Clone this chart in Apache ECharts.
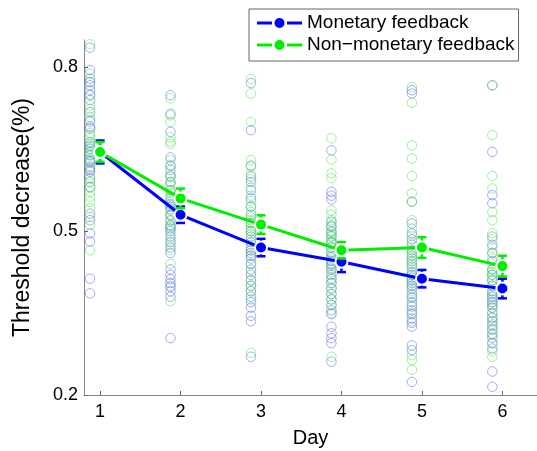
<!DOCTYPE html>
<html>
<head>
<meta charset="utf-8">
<script src="https://cdn.jsdelivr.net/npm/echarts@6/dist/echarts.min.js"></script>
<style>
html,body{margin:0;padding:0;background:#fff;}
#chart{width:537px;height:451px;}
</style>
</head>
<body>
<div id="chart"></div>
<script>
// ---- data ----
const days = [1, 2, 3, 4, 5, 6];
const xTicks = [1, 2, 3, 4, 5, 6];
const yTicks = [0.2, 0.5, 0.8];

const monetaryMeans = [0.645, 0.530, 0.470, 0.444, 0.413, 0.395];
const monetarySem   = [0.021, 0.015, 0.016, 0.019, 0.016, 0.018];
const nonMonetaryMeans = [0.645, 0.560, 0.512, 0.465, 0.470, 0.436];
const nonMonetarySem   = [0.018, 0.018, 0.017, 0.015, 0.019, 0.019];

const monetaryDay1 = [0.836,0.795,0.779,0.773,0.767,0.758,0.749,0.740,0.718,0.703,0.691,0.688,0.663,0.651,0.639,0.627,0.618,0.609,0.597,0.581,0.532,0.520,0.496,0.481,0.413,0.386,0.655,0.645,0.630,0.612];
const monetaryDay2 = [0.749,0.715,0.682,0.635,0.620,0.612,0.600,0.590,0.575,0.560,0.550,0.540,0.530,0.520,0.510,0.500,0.490,0.480,0.470,0.460,0.430,0.420,0.412,0.405,0.398,0.390,0.380,0.304,0.545,0.505];
const monetaryDay3 = [0.771,0.685,0.620,0.600,0.590,0.575,0.560,0.545,0.530,0.515,0.500,0.490,0.480,0.470,0.460,0.450,0.440,0.430,0.420,0.410,0.400,0.390,0.380,0.370,0.360,0.345,0.335,0.270,0.465,0.455];
const monetaryDay4 = [0.648,0.572,0.565,0.558,0.517,0.508,0.499,0.490,0.480,0.470,0.460,0.452,0.445,0.437,0.430,0.420,0.412,0.405,0.395,0.385,0.375,0.365,0.355,0.348,0.325,0.313,0.304,0.295,0.261,0.440];
const monetaryDay5 = [0.758,0.752,0.554,0.514,0.496,0.485,0.475,0.465,0.455,0.445,0.435,0.425,0.415,0.405,0.395,0.385,0.378,0.370,0.362,0.355,0.348,0.340,0.332,0.325,0.291,0.282,0.224,0.420,0.410,0.400];
const monetaryDay6 = [0.767,0.645,0.566,0.551,0.490,0.475,0.460,0.445,0.430,0.420,0.410,0.400,0.390,0.380,0.370,0.360,0.350,0.342,0.335,0.327,0.320,0.312,0.305,0.295,0.285,0.243,0.215,0.385,0.375,0.365];

const nonMonetaryDay1 = [0.842,0.788,0.773,0.730,0.724,0.709,0.676,0.670,0.657,0.645,0.633,0.602,0.591,0.572,0.563,0.554,0.542,0.526,0.511,0.465,0.660,0.650,0.640,0.625,0.615,0.700,0.680,0.590,0.580,0.750];
const nonMonetaryDay2 = [0.743,0.712,0.700,0.672,0.664,0.630,0.605,0.585,0.575,0.565,0.555,0.548,0.538,0.528,0.518,0.508,0.495,0.485,0.475,0.465,0.440,0.400,0.372,0.600,0.620,0.570,0.590,0.530,0.512,0.660];
const nonMonetaryDay3 = [0.779,0.752,0.700,0.630,0.618,0.605,0.595,0.580,0.565,0.555,0.545,0.535,0.525,0.515,0.505,0.495,0.485,0.475,0.465,0.455,0.440,0.425,0.410,0.400,0.390,0.375,0.277,0.520,0.510,0.500];
const nonMonetaryDay4 = [0.670,0.631,0.606,0.597,0.538,0.530,0.520,0.510,0.500,0.492,0.485,0.478,0.470,0.462,0.455,0.448,0.440,0.432,0.425,0.415,0.405,0.395,0.385,0.375,0.365,0.350,0.270,0.510,0.495,0.480];
const nonMonetaryDay5 = [0.764,0.735,0.657,0.633,0.601,0.569,0.554,0.520,0.505,0.492,0.480,0.470,0.460,0.450,0.440,0.430,0.420,0.410,0.400,0.390,0.380,0.365,0.350,0.335,0.273,0.264,0.246,0.460,0.450,0.440];
const nonMonetaryDay6 = [0.767,0.676,0.601,0.578,0.535,0.520,0.496,0.485,0.470,0.460,0.450,0.440,0.430,0.420,0.410,0.400,0.390,0.380,0.370,0.360,0.350,0.340,0.330,0.320,0.310,0.295,0.280,0.270,0.425,0.415];

const seriesNames = ['Monetary feedback', 'Non\u2212monetary feedback'];
// ---------------------------------------

const monetaryIndiv = [monetaryDay1, monetaryDay2, monetaryDay3, monetaryDay4, monetaryDay5, monetaryDay6];
const nonMonetaryIndiv = [nonMonetaryDay1, nonMonetaryDay2, nonMonetaryDay3, nonMonetaryDay4, nonMonetaryDay5, nonMonetaryDay6];

const SCATTER_SHIFT = -0.125;
const BLUE = '#0000ff';
const GREEN = '#00ee00';
const FONT = '"Liberation Sans", Arial, sans-serif';
// legend glyph: dash, dot, dash
const LEGEND_ICON = 'path://M0,5.6H15V8.4H0Z M30,5.6H45V8.4H30Z M17.5,7A5,5 0 1,0 27.5,7A5,5 0 1,0 17.5,7Z';

function scatterData(groups) {
  const out = [];
  groups.forEach((vals, i) => vals.forEach(v => out.push([days[i] + SCATTER_SHIFT, v])));
  return out;
}
function errData(means, sem) {
  return days.map((d, i) => [d, means[i] - sem[i], means[i] + sem[i]]);
}
function errRender(color) {
  return function (params, api) {
    const x = api.value(0);
    const lo = api.coord([x, api.value(1)]);
    const hi = api.coord([x, api.value(2)]);
    const w = 4.5;
    const style = { stroke: color, lineWidth: 2.5, fill: null };
    return {
      type: 'group',
      children: [
        { type: 'line', shape: { x1: lo[0], y1: lo[1], x2: hi[0], y2: hi[1] }, style: style },
        { type: 'line', shape: { x1: lo[0] - w, y1: lo[1], x2: lo[0] + w, y2: lo[1] }, style: style },
        { type: 'line', shape: { x1: hi[0] - w, y1: hi[1], x2: hi[0] + w, y2: hi[1] }, style: style }
      ]
    };
  };
}

const chart = echarts.init(document.getElementById('chart'), null, { renderer: 'canvas' });
chart.setOption({
  animation: false,
  backgroundColor: '#fff',
  textStyle: { fontFamily: FONT },
  grid: { left: 84, right: 0, top: 40, bottom: 56, containLabel: false, outerBoundsMode: 'none' },
  legend: {
    data: seriesNames.map(n => ({ name: n, icon: LEGEND_ICON })),
    orient: 'vertical',
    left: 249,
    top: 9,
    padding: [4, 4, 6, 8],
    itemGap: 2,
    itemWidth: 45,
    itemHeight: 14,
    borderColor: '#666',
    borderWidth: 1,
    backgroundColor: '#fff',
    itemStyle: { borderWidth: 0 },
    lineStyle: { width: 0, opacity: 0 },
    textStyle: { fontSize: 19, color: '#000', fontFamily: FONT, lineHeight: 20 }
  },
  xAxis: {
    type: 'value',
    min: 0.8,
    max: 6.43,
    name: 'Day',
    nameLocation: 'middle',
    nameGap: 33,
    nameTextStyle: { fontSize: 20, color: '#000', fontFamily: FONT },
    axisLine: { show: true, lineStyle: { color: '#888', width: 1 } },
    axisTick: { show: true, inside: true, length: 4, customValues: xTicks, lineStyle: { color: '#666' } },
    axisLabel: { customValues: xTicks, fontSize: 18, color: '#000', margin: 8, fontFamily: FONT },
    splitLine: { show: false }
  },
  yAxis: {
    type: 'value',
    min: 0.2,
    max: 0.85,
    name: 'Threshold decrease(%)',
    nameLocation: 'middle',
    nameGap: 50,
    nameRotate: 90,
    nameTextStyle: { fontSize: 23, color: '#000', fontFamily: FONT },
    axisLine: { show: true, lineStyle: { color: '#888', width: 1 } },
    axisTick: { show: true, inside: true, length: 4, customValues: yTicks, lineStyle: { color: '#666' } },
    axisLabel: { customValues: yTicks, fontSize: 18, color: '#000', margin: 6, fontFamily: FONT,
      formatter: v => v.toFixed(1) },
    splitLine: { show: false }
  },
  series: [
    {
      name: 'monetary-indiv', type: 'scatter', data: scatterData(monetaryIndiv),
      symbol: 'circle', symbolSize: 9.5,
      itemStyle: { color: 'rgba(0,0,0,0)', borderColor: 'rgba(80,80,255,0.6)', borderWidth: 1 },
      z: 1, silent: true
    },
    {
      name: 'nonmonetary-indiv', type: 'scatter', data: scatterData(nonMonetaryIndiv),
      symbol: 'circle', symbolSize: 9.5,
      itemStyle: { color: 'rgba(0,0,0,0)', borderColor: 'rgba(60,225,60,0.6)', borderWidth: 1 },
      z: 1, silent: true
    },
    {
      name: 'monetary-err', type: 'custom', data: errData(monetaryMeans, monetarySem),
      renderItem: errRender(BLUE), z: 3, silent: true
    },
    {
      name: seriesNames[0], type: 'line', data: days.map((d, i) => [d, monetaryMeans[i]]),
      symbol: 'circle', symbolSize: 12, showAllSymbol: true,
      lineStyle: { color: BLUE, width: 3 },
      itemStyle: { color: BLUE, borderColor: '#fff', borderWidth: 2 },
      z: 4
    },
    {
      name: 'nonmonetary-err', type: 'custom', data: errData(nonMonetaryMeans, nonMonetarySem),
      renderItem: errRender(GREEN), z: 5, silent: true
    },
    {
      name: seriesNames[1], type: 'line', data: days.map((d, i) => [d, nonMonetaryMeans[i]]),
      symbol: 'circle', symbolSize: 12, showAllSymbol: true,
      lineStyle: { color: GREEN, width: 3 },
      itemStyle: { color: GREEN, borderColor: '#fff', borderWidth: 2 },
      z: 6
    }
  ]
});
</script>
</body>
</html>
